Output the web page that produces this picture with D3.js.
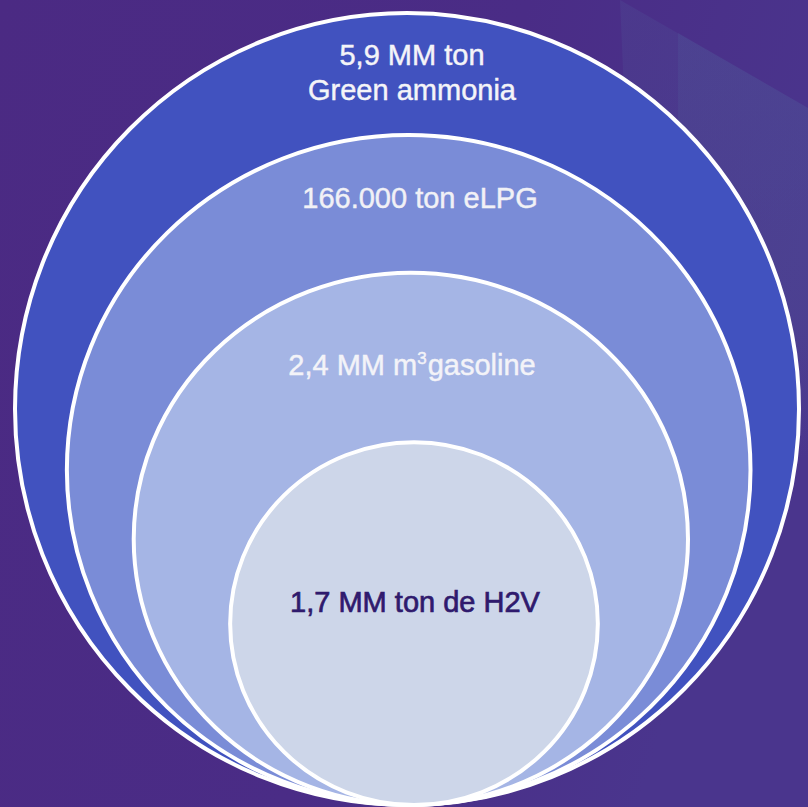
<!DOCTYPE html>
<html>
<head>
<meta charset="utf-8">
<script src="https://cdn.jsdelivr.net/npm/d3@7"></script>
<style>
html,body{margin:0;padding:0;background:#4a2b84;}
svg{display:block;}
</style>
</head>
<body>
<div id="chart"></div>
<script>
// ---- data (outer to inner) ----
const labels = [
  ["5,9 MM ton", "Green ammonia"],
  ["166.000 ton eLPG"],
  ["2,4 MM m|3|gasoline"],
  ["1,7 MM ton de H2V"]
];
const relativeWidth  = [1.0, 0.872, 0.707, 0.469];
const relativeHeight = [1.0, 0.846, 0.672, 0.458];
const fills = ["#4152bf", "#7a8cd7", "#a5b5e5", "#cdd6e9"];
const textColors = ["#f4f4f8", "#f1f1f6", "#f3f3f8", "#2f1a6d"];

const W = 808, H = 807;
const svg = d3.select("#chart").append("svg").attr("width", W).attr("height", H);

// background
const defs = svg.append("defs");
const bg = defs.append("linearGradient").attr("id", "bg").attr("x1", "0").attr("y1", "0").attr("x2", "1").attr("y2", "0.3");
bg.append("stop").attr("offset", "0").attr("stop-color", "#4b2a83");
bg.append("stop").attr("offset", "0.6").attr("stop-color", "#4a2c86");
bg.append("stop").attr("offset", "1").attr("stop-color", "#4a358d");
svg.append("rect").attr("width", W).attr("height", H).attr("fill", "url(#bg)");
const fade = defs.append("linearGradient").attr("id", "fade").attr("x1", "0").attr("y1", "0").attr("x2", "0").attr("y2", "1");
fade.append("stop").attr("offset", "0").attr("stop-color", "#4f5398").attr("stop-opacity", 0.55);
fade.append("stop").attr("offset", "0.7").attr("stop-color", "#4f5398").attr("stop-opacity", 0.35);
fade.append("stop").attr("offset", "1").attr("stop-color", "#4f5398").attr("stop-opacity", 0);
svg.append("polygon").attr("points", "620,0 808,108 808,460 640,460")
  .attr("fill", "url(#fade)").attr("opacity", 0.5);
svg.append("polygon").attr("points", "678,33 808,108 808,460 678,460")
  .attr("fill", "url(#fade)").attr("opacity", 0.6);

// scales: relative magnitude -> radii
const bottom = 805;
const rx = d3.scaleLinear().domain([0, 1]).range([0, 392]);
const ry = d3.scaleLinear().domain([0, 1]).range([0, 396]);
const cxs = d3.scaleLinear().domain([1, 0.469]).range([407, 414]);

const g = svg.append("g");
g.selectAll("ellipse").data(relativeWidth).join("ellipse")
  .attr("cx", d => cxs(d))
  .attr("cy", (d, i) => bottom - ry(relativeHeight[i]))
  .attr("rx", d => rx(d))
  .attr("ry", (d, i) => ry(relativeHeight[i]))
  .attr("fill", (d, i) => fills[i])
  .attr("stroke", "#ffffff")
  .attr("stroke-width", 4);

// labels
const fs = 29;
const labelY = [[65, 100], [208], [375], [612]];
const labelX = [412, 420, 412, 415];
labels.forEach((lines, i) => {
  lines.forEach((line, j) => {
    const t = svg.append("text")
      .attr("x", labelX[i])
      .attr("y", labelY[i][j])
      .attr("text-anchor", "middle")
      .attr("font-family", "Liberation Sans, Arial, sans-serif")
      .attr("font-size", fs)
      .attr("fill", textColors[i])
      .attr("stroke", textColors[i])
      .attr("stroke-width", i === 3 ? 0.7 : 0.45);
    if (line.includes("|")) {
      const parts = line.split("|");
      t.append("tspan").text(parts[0]);
      t.append("tspan").text(parts[1]).attr("font-size", 17).attr("dy", -11);
      t.append("tspan").text(parts[2]).attr("dy", 11).attr("dx", 1);
    } else {
      t.text(line);
    }
  });
});
</script>
</body>
</html>
